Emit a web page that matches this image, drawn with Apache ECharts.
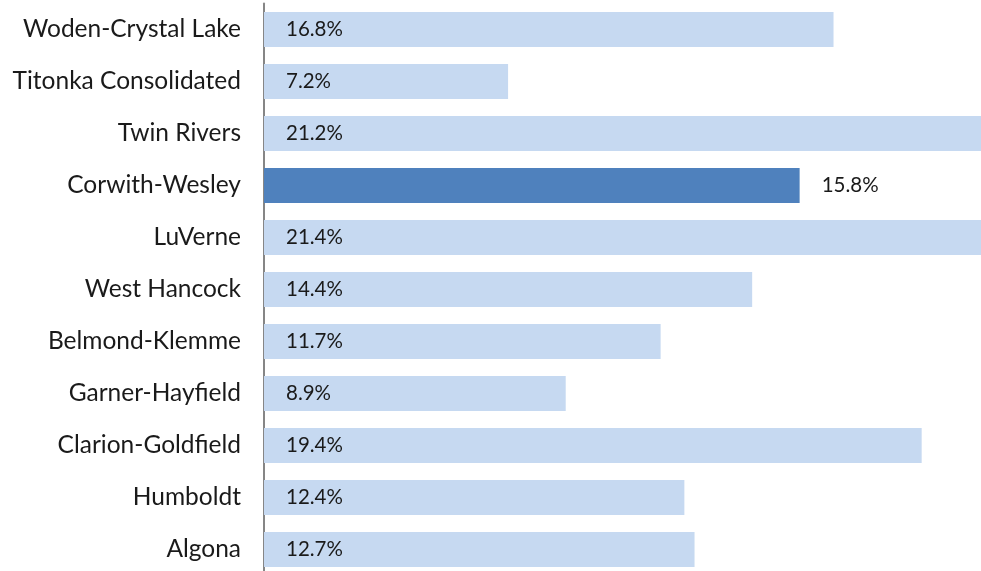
<!DOCTYPE html>
<html>
<head>
<meta charset="utf-8">
<script src="https://cdn.jsdelivr.net/npm/echarts@6/dist/echarts.min.js"></script>
<style>
html,body{margin:0;padding:0;background:#fff;overflow:hidden;}
#c{width:981px;height:577px;}
</style>
</head>
<body>
<div id="c"></div>
<script>
const categories = ["Woden-Crystal Lake","Titonka Consolidated","Twin Rivers","Corwith-Wesley","LuVerne","West Hancock","Belmond-Klemme","Garner-Hayfield","Clarion-Goldfield","Humboldt","Algona"];
const values = [16.8, 7.2, 21.2, 15.8, 21.4, 14.4, 11.7, 8.9, 19.4, 12.4, 12.7];
const highlight = "Corwith-Wesley";

const chart = echarts.init(document.getElementById('c'));
const FONT = 'Lato';
chart.setOption({
  animation: false,
  grid: {left: 264, right: 0, top: 3.5, bottom: 1.5, containLabel: false},
  xAxis: {
    type: 'value', min: 0, max: 21.15,
    show: false
  },
  yAxis: {
    type: 'category', data: categories, inverse: true,
    axisLine: {show: true, lineStyle: {color: '#868686', width: 2}},
    axisTick: {show: false},
    axisLabel: {color: '#1a1a1a', fontSize: 24.5, fontFamily: FONT, margin: 23}
  },
  series: [{
    type: 'bar',
    barWidth: 35,
    clip: true,
    data: categories.map((c, i) => {
      const hi = c === highlight;
      return {
        value: values[i],
        itemStyle: {color: hi ? '#4F81BD' : '#C6D9F1'},
        label: {
          show: true,
          position: hi ? 'right' : 'insideLeft',
          distance: 22,
          formatter: v => v.value.toFixed(1) + '%',
          color: '#1a1a1a',
          fontSize: 20.5,
          fontFamily: FONT
        }
      };
    })
  }]
});
</script>
</body>
</html>
